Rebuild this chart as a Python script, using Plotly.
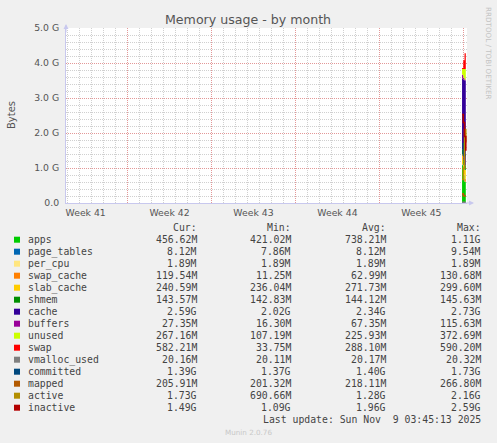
import plotly.graph_objects as go

# figure / plot area in pixels (rrdtool-like layout)
W, H = 497, 443
L, R, T, B = 66, 30, 28, 240
PW, PH = W - L - R, H - T - B


def px(x):
    return (x - L) / PW


def py(y):
    return (H - B - y) / PH


# data (GiB), only the last few hours exist in the month view
times = ["2025-11-08 21:30", "2025-11-09 00:00", "2025-11-09 02:30", "2025-11-09 05:00"]

apps = [1.08, 0.78, 0.60, 0.446]
page_tables = [0.0093, 0.0080, 0.0077, 0.0079]
per_cpu = [0.0018, 0.0018, 0.0018, 0.0018]
swap_cache = [0.011, 0.030, 0.080, 0.117]
slab_cache = [0.29, 0.27, 0.25, 0.235]
shmem = [0.142, 0.141, 0.140, 0.140]
cache = [2.02, 2.29, 2.42, 2.59]
buffers = [0.113, 0.060, 0.030, 0.027]
unused = [0.16, 0.25, 0.30, 0.261]
swap = [0.033, 0.25, 0.45, 0.569]

vmalloc_used = [0.0198, 0.0197, 0.0196, 0.0197]
committed = [1.69, 1.37, 1.36, 1.36]
mapped = [0.26, 0.21, 0.20, 0.20]
active = [0.67, 1.00, 2.10, 1.73]
inactive = [2.53, 2.30, 1.90, 1.49]

# legend table
names = ["apps", "page_tables", "per_cpu", "swap_cache", "slab_cache", "shmem", "cache",
         "buffers", "unused", "swap", "vmalloc_used", "committed", "mapped", "active", "inactive"]
colors = ["#00CC00", "#0066B3", "#FFE680", "#FF8000", "#FFCC00", "#008F00", "#330099",
          "#990099", "#CCFF00", "#FF0000", "#808080", "#00487D", "#B35A00", "#B38F00", "#B30000"]
cur_vals = ["456.62M", "8.12M", "1.89M", "119.54M", "240.59M", "143.57M", "2.59G", "27.35M",
            "267.16M", "582.21M", "20.16M", "1.39G", "205.91M", "1.73G", "1.49G"]
min_vals = ["421.02M", "7.86M", "1.89M", "11.25M", "236.04M", "142.83M", "2.02G", "16.30M",
            "107.19M", "33.75M", "20.11M", "1.37G", "201.32M", "690.66M", "1.09G"]
avg_vals = ["738.21M", "8.12M", "1.89M", "62.99M", "271.73M", "144.12M", "2.34G", "67.35M",
            "225.93M", "288.10M", "20.17M", "1.40G", "218.11M", "1.28G", "1.96G"]
max_vals = ["1.11G", "9.54M", "1.89M", "130.68M", "299.60M", "145.63M", "2.73G", "115.63M",
            "372.69M", "590.20M", "20.32M", "1.73G", "266.80M", "2.16G", "2.59G"]

stacked = [apps, page_tables, per_cpu, swap_cache, slab_cache, shmem, cache, buffers, unused, swap]
lines = [vmalloc_used, committed, mapped, active, inactive]

# axes
x_range = ["2025-10-06 20:40", "2025-11-09 07:25"]
week_starts = ["2025-10-12", "2025-10-19", "2025-10-26", "2025-11-02", "2025-11-09"]
week_mids = ["2025-10-08 12:00", "2025-10-15 12:00", "2025-10-22 12:00", "2025-10-29 12:00", "2025-11-05 12:00"]
week_labels = ["Week 41", "Week 42", "Week 43", "Week 44", "Week 45"]
y_ticks = [0, 1, 2, 3, 4, 5]
y_labels = ["0.0", "1.0 G", "2.0 G", "3.0 G", "4.0 G", "5.0 G"]

fig = go.Figure()

for i, vals in enumerate(stacked):
    fig.add_trace(go.Scatter(
        x=times, y=vals, name=names[i], mode="lines", stackgroup="mem",
        line=dict(width=0, shape="hv"), fillcolor=colors[i], hoverinfo="skip"))

for j, vals in enumerate(lines):
    i = len(stacked) + j
    fig.add_trace(go.Scatter(
        x=times, y=vals, name=names[i], mode="lines",
        line=dict(width=1.6, color=colors[i], shape="hv"), hoverinfo="skip"))

# empty traces so the week-grid and week-label axes get drawn
fig.add_trace(go.Scatter(x=[], y=[], xaxis="x2", yaxis="y", hoverinfo="skip"))
fig.add_trace(go.Scatter(x=[], y=[], xaxis="x3", yaxis="y", hoverinfo="skip"))

font = "DejaVu Sans"
mono = "DejaVu Sans Mono"
txt = "#555555"
axis_col = "#C8C8EE"
minor_col = "#D0D0D0"
major_col = "#E39898"
dots = "1px,1px"

fig.update_layout(
    width=W, height=H, autosize=False,
    margin=dict(l=L, r=R, t=T, b=B),
    paper_bgcolor="#F0F0F0", plot_bgcolor="#FFFFFF",
    showlegend=False,
    font=dict(family=font, size=9.3, color=txt),
    # daily grid
    xaxis=dict(
        type="date", range=x_range, tickmode="linear", tick0="2025-10-06", dtick=86400000,
        showticklabels=False, ticks="", showgrid=True, gridcolor=minor_col,
        griddash=dots, gridwidth=1, zeroline=False,
        showline=True, linecolor=axis_col, linewidth=1,
    ),
    # weekly grid
    xaxis2=dict(
        type="date", range=x_range, overlaying="x", anchor="y", side="bottom",
        tickmode="array", tickvals=week_starts, showticklabels=False,
        showgrid=True, gridcolor=major_col, griddash=dots, gridwidth=1,
        ticks="", zeroline=False, showline=False,
    ),
    # week labels
    xaxis3=dict(
        type="date", range=x_range, overlaying="x", anchor="y", side="bottom",
        tickmode="array", tickvals=week_mids, ticktext=week_labels,
        showgrid=False, ticks="", zeroline=False, showline=False,
        ticklabelstandoff=3,
        tickfont=dict(family=font, size=9.3, color=txt),
    ),
    yaxis=dict(
        range=[0, 5], tickmode="array", tickvals=y_ticks, ticktext=y_labels,
        ticks="", showgrid=True, gridcolor=major_col, griddash=dots, gridwidth=1,
        zeroline=False, showline=True, linecolor=axis_col, linewidth=1,
        ticklabelstandoff=4,
        tickfont=dict(family=font, size=9.3, color=txt),
        minor=dict(tickmode="linear", tick0=0, dtick=0.2, showgrid=True,
                   gridcolor=minor_col, griddash=dots, gridwidth=1, ticks=""),
    ),
)

ann = []
shapes = []

# title and side texts
ann.append(dict(text="Memory usage - by month", x=px(248), y=py(19.5), xref="paper", yref="paper",
                showarrow=False, xanchor="center", yanchor="middle",
                font=dict(family=font, size=12.6, color="#555555")))
ann.append(dict(text="Bytes", x=px(11), y=py(115), xref="paper", yref="paper", textangle=-90,
                showarrow=False, xanchor="center", yanchor="middle",
                font=dict(family=font, size=10, color=txt)))
ann.append(dict(text="RRDTOOL / TOBI OETIKER", x=px(488.5), y=py(5), xref="paper", yref="paper",
                textangle=90, showarrow=False, xanchor="center", yanchor="top",
                font=dict(family=font, size=7.2, color="#C4C4C4")))

# axis arrows
ann.append(dict(text="", x=0, y=py(24), xref="paper", yref="paper", ax=0, ay=10,
                showarrow=True, arrowhead=2, arrowsize=1, arrowwidth=1, arrowcolor=axis_col))
ann.append(dict(text="", x=px(474), y=0, xref="paper", yref="paper", ax=-10, ay=0,
                showarrow=True, arrowhead=2, arrowsize=1, arrowwidth=1, arrowcolor=axis_col))

# legend table
col_right = [198.7, 293.3, 388.3, 482.7]
headers = ["Cur:", "Min:", "Avg:", "Max:"]
row0, step = 239.7, 12.0
lf = dict(family=mono, size=9.8, color="#444444")

for c, h in zip(col_right, headers):
    ann.append(dict(text=h, x=px(c), y=py(227.3), xref="paper", yref="paper", showarrow=False,
                    xanchor="right", yanchor="middle", font=lf))

for i, n in enumerate(names):
    yy = row0 + step * i
    shapes.append(dict(type="rect", xref="paper", yref="paper", x0=px(14), x1=px(20),
                       y0=py(yy + 3), y1=py(yy - 3), fillcolor=colors[i], line=dict(width=0)))
    ann.append(dict(text=n, x=px(26), y=py(yy), xref="paper", yref="paper", showarrow=False,
                    xanchor="left", yanchor="middle", font=lf))
    for c, v in zip(col_right, [cur_vals[i], min_vals[i], avg_vals[i], max_vals[i]]):
        ann.append(dict(text=v, x=px(c), y=py(yy), xref="paper", yref="paper", showarrow=False,
                        xanchor="right", yanchor="middle", font=lf))

ann.append(dict(text="Last update: Sun Nov  9 03:45:13 2025".replace("  ", "&nbsp; "),
                x=px(482.7), y=py(419.7), xref="paper", yref="paper", showarrow=False,
                xanchor="right", yanchor="middle", font=lf))
ann.append(dict(text="Munin 2.0.76", x=px(248), y=py(432), xref="paper", yref="paper",
                showarrow=False, xanchor="center", yanchor="middle",
                font=dict(family=font, size=7.2, color="#C8C8C8")))

fig.update_layout(annotations=ann, shapes=shapes)

# drop the default page margin so the chart sits at the window corner
fig.write_html("out.html", config={"displayModeBar": False},
               post_script="document.body.style.margin='0';")
